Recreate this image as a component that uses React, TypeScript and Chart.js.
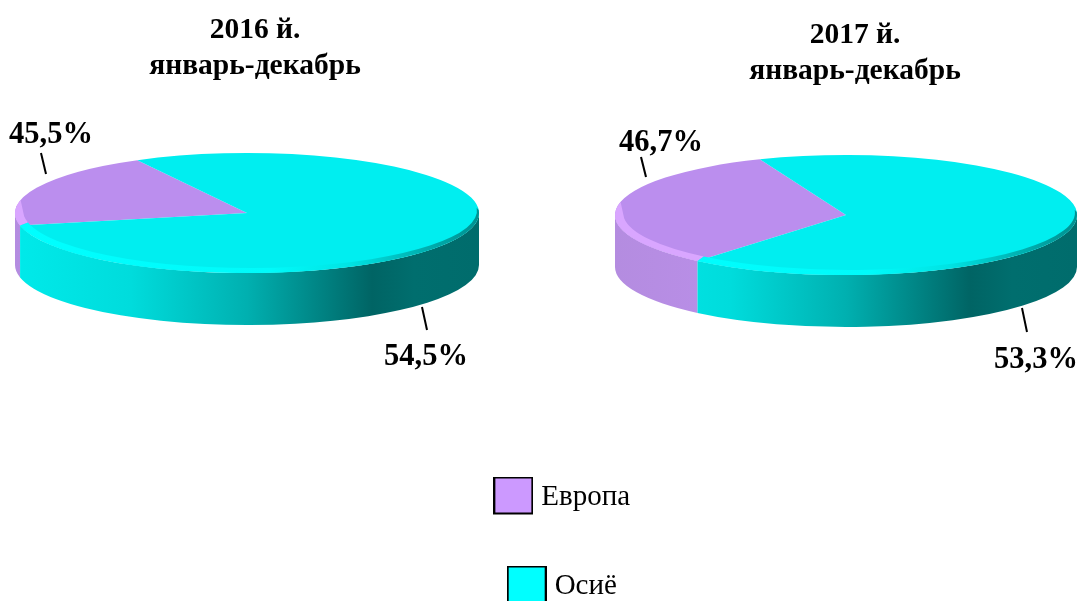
import React, { useEffect, useRef } from "react";
import { Chart, registerables } from "chart.js";

Chart.register(...registerables);

const categories = ["Европа", "Осиё"];
const legendColors = ["#cc99ff", "#00ffff"];
const faceColors = ["#bb8eee", "#00eef0"];
// Printed labels of each pie
const titles2016 = ["2016 й.", "январь-декабрь"];
const titles2017 = ["2017 й.", "январь-декабрь"];
const printed2016 = [45.5, 54.5];
const printed2017 = [46.7, 53.3];
// Slice sizes as drawn in the picture (they differ from the printed labels)
const drawn2016 = [20.5, 79.5];
const drawn2017 = [32.8, 67.2];
const rotation2016 = -102;
const rotation2017 = -140;

const FONT = "'Liberation Serif', serif";
const fmt = (v: number) => v.toFixed(1).replace(".", ",") + "%";

function sideGradient(ctx: CanvasRenderingContext2D, cx: number, rx: number, i: number) {
  const g = ctx.createLinearGradient(cx - rx, 0, cx + rx, 0);
  if (i === 0) {
    g.addColorStop(0, "#b48ce0");
    g.addColorStop(0.3, "#bb8fea");
    g.addColorStop(1, "#5c4676");
  } else {
    g.addColorStop(0, "#00eaea");
    g.addColorStop(0.25, "#00dcdc");
    g.addColorStop(0.5, "#00b0b0");
    g.addColorStop(0.77, "#006464");
    g.addColorStop(0.86, "#006e6e");
    g.addColorStop(1, "#006c6c");
  }
  return g;
}

function bevelGradient(ctx: CanvasRenderingContext2D, cx: number, rx: number, i: number) {
  const g = ctx.createLinearGradient(cx - rx, 0, cx + rx, 0);
  if (i === 0) {
    g.addColorStop(0, "#d9a6ff");
    g.addColorStop(1, "#d9a6ff");
  } else {
    g.addColorStop(0, "#00ffff");
    g.addColorStop(0.55, "#00fafa");
    g.addColorStop(0.72, "#00e4e4");
    g.addColorStop(0.88, "#00b0b0");
    g.addColorStop(1, "#009090");
  }
  return g;
}

function frontRanges(a0: number, a1: number, lo = 0, hi = Math.PI) {
  const out: [number, number, number][] = [];
  for (let k = -2; k <= 2; k++) {
    const top = hi + 2 * Math.PI * k;
    const s = Math.max(a0, lo + 2 * Math.PI * k);
    const e = Math.min(a1, top);
    // third value: where the inner edge of the rim stops, so that it tapers out
    if (e > s) out.push([s, e, e === top ? Math.max(s, e - 0.32) : e]);
  }
  return out;
}

const pie3d = {
  id: "pie3d",
  beforeDatasetsDraw(chart: any, _a: any, o: any) {
    const ctx = chart.ctx as CanvasRenderingContext2D;
    const meta = chart.getDatasetMeta(0);
    ctx.save();
    meta.data.forEach((arc: any, i: number) => {
      const { startAngle, endAngle, outerRadius } = arc.getProps(["startAngle", "endAngle", "outerRadius"]);
      for (const [s, e] of frontRanges(startAngle, endAngle)) {
        ctx.beginPath();
        ctx.ellipse(o.cx, o.cy, outerRadius, outerRadius * o.k, 0, s, e);
        ctx.ellipse(o.cx, o.cy + o.depth, outerRadius, outerRadius * o.k, 0, e, s, true);
        ctx.closePath();
        ctx.fillStyle = sideGradient(ctx, o.cx, outerRadius, i);
        ctx.fill();
      }
    });
    ctx.restore();
    const c = meta.data[0];
    ctx.save();
    ctx.translate(o.cx, o.cy);
    ctx.scale(1, o.k);
    ctx.translate(-c.x, -c.y);
  },
  afterDatasetsDraw(chart: any, _a: any, o: any) {
    const ctx = chart.ctx as CanvasRenderingContext2D;
    ctx.restore();
    const meta = chart.getDatasetMeta(0);
    ctx.save();
    meta.data.forEach((arc: any, i: number) => {
      const { startAngle, endAngle, outerRadius } = arc.getProps(["startAngle", "endAngle", "outerRadius"]);
      const ry = outerRadius * o.k;
      for (const [s, e, ie] of frontRanges(startAngle, endAngle, -0.05, Math.PI + 0.22)) {
        ctx.beginPath();
        ctx.ellipse(o.cx, o.cy, outerRadius, ry, 0, s, e);
        ctx.ellipse(o.cx + 3, o.cy - 2.5, outerRadius - 5, ry - 2.5, 0, ie, s, true);
        ctx.closePath();
        ctx.fillStyle = bevelGradient(ctx, o.cx, outerRadius, i);
        ctx.fill();
      }
    });
    ctx.fillStyle = "#000";
    ctx.strokeStyle = "#000";
    ctx.lineWidth = 2;
    ctx.font = `bold 30.5px ${FONT}`;
    ctx.textAlign = "center";
    ctx.textBaseline = "middle";
    o.labels.forEach((l: any, i: number) => {
      ctx.fillText(fmt(o.values[i]), l.x, l.y);
      ctx.beginPath();
      ctx.moveTo(l.x1, l.y1);
      ctx.lineTo(l.x2, l.y2);
      ctx.stroke();
    });
    ctx.restore();
  },
};

function pieConfig(title: string[], drawn: number[], printed: number[], rotation: number, geo: any) {
  return {
    type: "pie" as const,
    data: {
      labels: categories,
      datasets: [{ data: drawn, backgroundColor: faceColors, borderWidth: 0 }],
    },
    plugins: [pie3d],
    options: {
      responsive: false,
      animation: false as const,
      rotation,
      radius: geo.rx,
      plugins: {
        legend: { display: false },
        tooltip: { enabled: false },
        title: {
          display: true,
          text: title,
          color: "#000",
          font: { family: FONT, size: 29.5, weight: "bold" as const, lineHeight: 1.2 },
          padding: { top: geo.titleTop, bottom: 0 },
        },
        pie3d: { ...geo, values: printed },
      },
    },
  };
}

const geo2016 = {
  cx: 247, cy: 213, rx: 232, k: 0.2586, depth: 52, titleTop: 13,
  labels: [
    { x: 51, y: 135, x1: 41, y1: 153, x2: 46, y2: 174 },
    { x: 426, y: 357, x1: 422, y1: 307, x2: 427, y2: 330 },
  ],
};
const geo2017 = {
  cx: 306, cy: 215, rx: 231, k: 0.2597, depth: 52, titleTop: 18,
  labels: [
    { x: 121, y: 143, x1: 101, y1: 157, x2: 106, y2: 177 },
    { x: 496, y: 360, x1: 482, y1: 308, x2: 487, y2: 332 },
  ],
};

function swatch(color: string, w: number, h: number) {
  const c = document.createElement("canvas");
  c.width = w;
  c.height = h + 4;
  const x = c.getContext("2d")!;
  x.fillStyle = color;
  x.fillRect(0, 0, w, h);
  x.strokeStyle = "#000";
  x.lineWidth = 2;
  x.strokeRect(1, 1, w - 2, h - 2);
  return c;
}

const pos = (left: number, top: number): React.CSSProperties => ({ position: "absolute", left, top, display: "block" });

export default function App() {
  const a = useRef<HTMLCanvasElement>(null);
  const b = useRef<HTMLCanvasElement>(null);
  const l = useRef<HTMLCanvasElement>(null);
  useEffect(() => {
    const c1 = new Chart(a.current!, pieConfig(titles2016, drawn2016, printed2016, rotation2016, geo2016) as any);
    const c2 = new Chart(b.current!, pieConfig(titles2017, drawn2017, printed2017, rotation2017, geo2017) as any);
    const c3 = new Chart(l.current!, {
      type: "pie",
      data: { labels: categories, datasets: [{ data: [1, 1], hidden: true, backgroundColor: legendColors }] },
      options: {
        responsive: false,
        animation: false,
        plugins: {
          tooltip: { enabled: false },
          legend: {
            display: true,
            position: "top",
            labels: {
              usePointStyle: true,
              boxWidth: 27,
              boxHeight: 29,
              padding: 60,
              color: "#111",
              font: { family: FONT, size: 29 },
              generateLabels: () =>
                categories.map((t, i) => ({
                  text: t,
                  fillStyle: legendColors[i],
                  pointStyle: swatch(legendColors[i], 40, 38),
                  hidden: false,
                  index: i,
                })),
            },
          },
        },
      },
    } as any);
    return () => {
      c1.destroy();
      c2.destroy();
      c3.destroy();
    };
  }, []);
  return (
    <div style={{ position: "fixed", left: 0, top: 0, width: 1080, height: 601, overflow: "hidden", background: "#fff" }}>
      <canvas ref={a} width={510} height={420} style={pos(0, 0)} />
      <canvas ref={b} width={630} height={420} style={pos(540, 0)} />
      <canvas ref={l} width={220} height={500} style={pos(455, 423)} />
    </div>
  );
}
